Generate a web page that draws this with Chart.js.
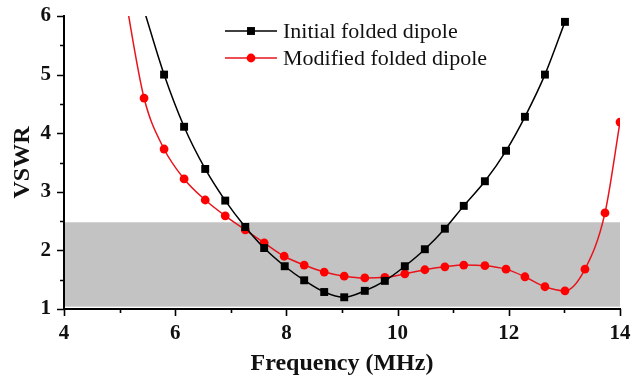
<!DOCTYPE html>
<html>
<head>
<meta charset="utf-8">
<script src="https://cdn.jsdelivr.net/npm/chart.js@4.4.1/dist/chart.umd.min.js"></script>
<style>
  html, body { margin: 0; padding: 0; background: #ffffff; }
  #wrap { width: 632px; height: 380px; position: relative; }
</style>
</head>
<body>
<div id="wrap"><canvas id="c" width="632" height="380"></canvas></div>
<script>
// Frequency sweep (MHz) and measured VSWR for both antennas
const freqInitial = [5.44, 5.80, 6.16, 6.54, 6.90, 7.26, 7.60, 7.97, 8.32, 8.68, 9.04, 9.41, 9.77, 10.13, 10.49, 10.85, 11.19, 11.57, 11.95, 12.29, 12.65, 13.01];
const vswrInitial = [6.10, 5.00, 4.11, 3.39, 2.85, 2.40, 2.04, 1.73, 1.49, 1.29, 1.20, 1.31, 1.48, 1.73, 2.02, 2.37, 2.76, 3.18, 3.70, 4.28, 5.00, 5.90];

const freqModified = [5.08, 5.44, 5.80, 6.16, 6.54, 6.90, 7.26, 7.60, 7.96, 8.32, 8.68, 9.04, 9.41, 9.77, 10.13, 10.49, 10.85, 11.19, 11.57, 11.95, 12.29, 12.65, 13.01, 13.37, 13.73, 14.00];
const vswrModified = [6.45, 4.60, 3.73, 3.22, 2.86, 2.59, 2.35, 2.13, 1.90, 1.75, 1.63, 1.56, 1.53, 1.54, 1.60, 1.67, 1.72, 1.75, 1.74, 1.68, 1.55, 1.38, 1.31, 1.68, 2.64, 4.19];

const seriesNames = ['Initial folded dipole', 'Modified folded dipole'];

// Acceptable-match band (VSWR range) across the sweep
const bandVswr = [1.04, 2.48];
const bandFreq = [4, 14];

const xTickValues = [4, 6, 8, 10, 12, 14];
const yTickValues = [1, 2, 3, 4, 5, 6];

const serif = "'Liberation Serif', 'Times New Roman', serif";

function toPoints(xs, ys) { return xs.map((x, i) => ({ x: x, y: ys[i] })); }

// Shaded band behind the curves
const bandPlugin = {
  id: 'band',
  beforeDatasetsDraw(chart) {
    const { ctx, scales: { x, y } } = chart;
    const x0 = x.getPixelForValue(bandFreq[0]) + 1, x1 = x.getPixelForValue(bandFreq[1]);
    const y0 = y.getPixelForValue(bandVswr[1]), y1 = y.getPixelForValue(bandVswr[0]);
    ctx.save();
    ctx.fillStyle = '#c3c3c3';
    ctx.fillRect(x0, y0, x1 - x0, y1 - y0);
    ctx.restore();
  }
};

// Outward major/minor tick marks on the left and bottom axes
const ticksPlugin = {
  id: 'axisTicks',
  afterDraw(chart) {
    const { ctx, chartArea, scales: { x, y } } = chart;
    ctx.save();
    ctx.strokeStyle = '#000';
    ctx.lineWidth = 1.6;
    ctx.beginPath();
    for (let v = 1; v <= 6.001; v += 0.5) {
      const p = Math.round(y.getPixelForValue(v)) + 0.5;
      const len = Math.abs(v - Math.round(v)) < 1e-6 ? 7 : 4;
      ctx.moveTo(chartArea.left, p);
      ctx.lineTo(chartArea.left - len, p);
    }
    for (let v = 4; v <= 14.001; v += 1) {
      const p = Math.round(x.getPixelForValue(v)) + 0.5;
      const len = (Math.round(v) % 2 === 0) ? 7 : 4;
      ctx.moveTo(p, chartArea.bottom);
      ctx.lineTo(p, chartArea.bottom + len);
    }
    ctx.stroke();
    ctx.restore();
  }
};

// Legend: a short line with the series marker, then the series name
const legendPlugin = {
  id: 'lineLegend',
  afterDraw(chart) {
    const { ctx } = chart;
    const rows = [31, 58];
    ctx.save();
    chart.data.datasets.forEach((ds, i) => {
      const yy = rows[i];
      ctx.strokeStyle = ds.borderColor;
      ctx.lineWidth = 1.5;
      ctx.beginPath();
      ctx.moveTo(225, yy);
      ctx.lineTo(277, yy);
      ctx.stroke();
      ctx.fillStyle = ds.pointBackgroundColor;
      ctx.beginPath();
      if (ds.pointStyle === 'rect') {
        const s = Math.SQRT1_2 * ds.pointRadius;
        ctx.rect(251 - s, yy - s, 2 * s, 2 * s);
      } else {
        ctx.arc(251, yy, ds.pointRadius, 0, Math.PI * 2);
      }
      ctx.fill();
      ctx.fillStyle = '#111';
      ctx.font = '22px ' + serif;
      ctx.textBaseline = 'middle';
      ctx.textAlign = 'left';
      ctx.fillText(seriesNames[i], 283, yy + 1);
    });
    ctx.restore();
  }
};

new Chart(document.getElementById('c'), {
  type: 'line',
  data: {
    datasets: [
      {
        label: seriesNames[0],
        data: toPoints(freqInitial, vswrInitial),
        borderColor: '#000000',
        backgroundColor: '#000000',
        pointBackgroundColor: '#000000',
        pointBorderColor: '#000000',
        pointStyle: 'rect',
        pointRadius: 5.6,
        pointBorderWidth: 0,
        borderWidth: 1.5,
        cubicInterpolationMode: 'monotone',
        clip: 0
      },
      {
        label: seriesNames[1],
        data: toPoints(freqModified, vswrModified),
        borderColor: '#e8141c',
        backgroundColor: '#ff0000',
        pointBackgroundColor: '#ff0000',
        pointBorderColor: '#ff0000',
        pointStyle: 'circle',
        pointRadius: 4.4,
        pointBorderWidth: 0,
        borderWidth: 1.5,
        cubicInterpolationMode: 'monotone',
        clip: 0
      }
    ]
  },
  options: {
    responsive: false,
    animation: false,
    devicePixelRatio: 1,
    layout: { padding: { top: 16, right: 12, left: 0, bottom: 0 } },
    plugins: { legend: { display: false }, tooltip: { enabled: false } },
    scales: {
      x: {
        type: 'linear',
        min: 4, max: 14,
        afterFit(scale) { scale.height = 71; scale.paddingLeft = 0; scale.paddingRight = 0; },
        afterBuildTicks(scale) { scale.ticks = xTickValues.map(v => ({ value: v })); },
        grid: { display: true, drawOnChartArea: false, drawTicks: false },
        border: { display: true, color: '#000', width: 2 },
        ticks: { color: '#111', padding: 12, font: { family: serif, size: 21, weight: 'bold' } },
        title: { display: true, text: 'Frequency (MHz)', color: '#111', padding: { top: 0, bottom: 2 }, font: { family: serif, size: 24, weight: 'bold' } }
      },
      y: {
        type: 'linear',
        min: 1, max: 6,
        afterFit(scale) { scale.width = 64; scale.paddingTop = 0; scale.paddingBottom = 0; },
        afterBuildTicks(scale) { scale.ticks = yTickValues.map(v => ({ value: v })); },
        grid: { display: true, drawOnChartArea: false, drawTicks: false },
        border: { display: true, color: '#000', width: 2 },
        ticks: { color: '#111', padding: 13, font: { family: serif, size: 21, weight: 'bold' } },
        title: { display: true, text: 'VSWR', color: '#111', padding: { top: 8, bottom: 0 }, font: { family: serif, size: 24, weight: 'bold' } }
      }
    }
  },
  plugins: [bandPlugin, ticksPlugin, legendPlugin]
});
</script>
</body>
</html>
